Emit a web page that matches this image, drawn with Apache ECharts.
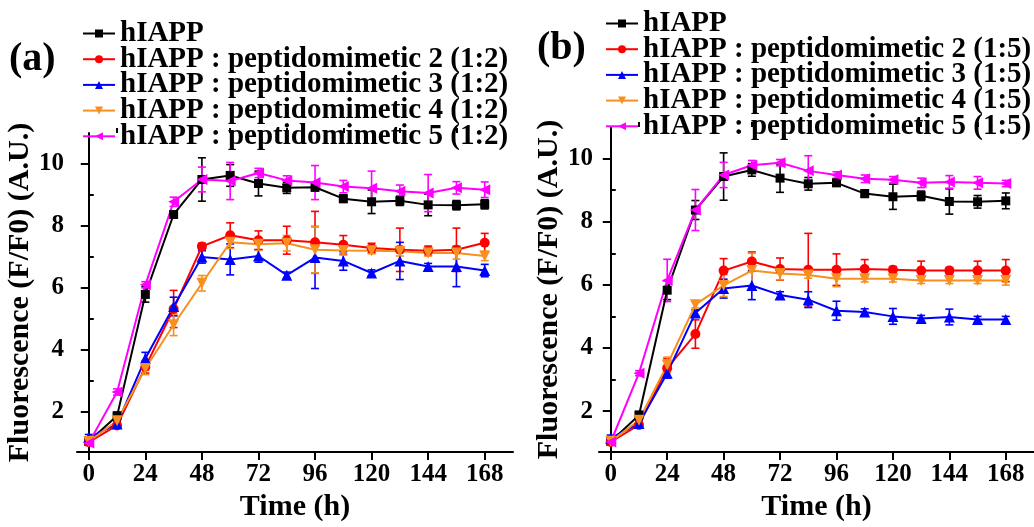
<!DOCTYPE html>
<html>
<head>
<meta charset="utf-8">
<script src="https://cdn.jsdelivr.net/npm/echarts@6/dist/echarts.min.js"></script>
<style>html,body{margin:0;padding:0;background:#fff;}#c{width:1034px;height:527px;}</style>
</head>
<body>
<div id="c"></div>
<script>
// ---------- data ----------
const hours = [0, 12, 24, 36, 48, 60, 72, 84, 96, 108, 120, 132, 144, 156, 168];
const xMajorTicks = [0, 24, 48, 72, 96, 120, 144, 168];
const xMinorTicks = [12, 36, 60, 84, 108, 132, 156];
const yMajorTicks = [2, 4, 6, 8, 10];
const yMinorTicks = [1, 3, 5, 7, 9];

const namesA = ['hIAPP', 'hIAPP : peptidomimetic 2 (1:2)', 'hIAPP : peptidomimetic 3 (1:2)', 'hIAPP : peptidomimetic 4 (1:2)', 'hIAPP : peptidomimetic 5 (1:2)'];
const namesB = ['hIAPP', 'hIAPP : peptidomimetic 2 (1:5)', 'hIAPP : peptidomimetic 3 (1:5)', 'hIAPP : peptidomimetic 4 (1:5)', 'hIAPP : peptidomimetic 5 (1:5)'];

// panel (a)
const a_hIAPP     = [1.04, 1.87, 5.79, 8.37, 9.50, 9.63, 9.37, 9.23, 9.25, 8.88, 8.78, 8.81, 8.68, 8.67, 8.70];
const a_hIAPP_err = [0.08, 0.12, 0.25, 0.10, 0.70, 0.35, 0.40, 0.18, 0.12, 0.12, 0.38, 0.15, 0.35, 0.15, 0.15];
const a_p2        = [1.02, 1.56, 3.45, 5.32, 7.34, 7.70, 7.54, 7.54, 7.47, 7.39, 7.29, 7.23, 7.20, 7.23, 7.46];
const a_p2_err    = [0.05, 0.08, 0.20, 0.60, 0.10, 0.40, 0.30, 0.45, 1.00, 0.30, 0.15, 0.70, 0.15, 0.70, 0.30];
const a_p3        = [1.17, 1.61, 3.72, 5.40, 7.00, 6.92, 7.03, 6.41, 6.98, 6.87, 6.48, 6.87, 6.69, 6.69, 6.56];
const a_p3_err    = [0.10, 0.08, 0.20, 0.30, 0.20, 0.50, 0.20, 0.10, 1.00, 0.30, 0.10, 0.60, 0.10, 0.65, 0.20];
const a_p4        = [1.04, 1.71, 3.40, 4.81, 6.15, 7.47, 7.41, 7.44, 7.23, 7.21, 7.20, 7.18, 7.13, 7.13, 7.03];
const a_p4_err    = [0.05, 0.12, 0.20, 0.35, 0.25, 0.20, 0.20, 0.25, 0.75, 0.15, 0.10, 0.15, 0.10, 0.20, 0.15];
const a_p5        = [0.99, 2.64, 6.10, 8.78, 9.50, 9.45, 9.71, 9.47, 9.40, 9.27, 9.22, 9.12, 9.06, 9.23, 9.17];
const a_p5_err    = [0.05, 0.10, 0.10, 0.15, 0.40, 0.60, 0.15, 0.15, 0.55, 0.20, 0.55, 0.20, 0.60, 0.20, 0.25];

// panel (b)
const b_hIAPP     = [1.04, 1.87, 5.83, 8.37, 9.43, 9.64, 9.38, 9.20, 9.23, 8.89, 8.79, 8.82, 8.64, 8.63, 8.66];
const b_hIAPP_err = [0.08, 0.12, 0.30, 0.30, 0.75, 0.20, 0.45, 0.20, 0.10, 0.12, 0.40, 0.15, 0.40, 0.20, 0.25];
const b_p2        = [1.02, 1.56, 3.36, 4.44, 6.45, 6.74, 6.50, 6.48, 6.48, 6.50, 6.48, 6.45, 6.45, 6.45, 6.45];
const b_p2_err    = [0.05, 0.08, 0.30, 0.45, 0.38, 0.30, 0.35, 1.15, 0.50, 0.30, 0.10, 0.30, 0.10, 0.30, 0.35];
const b_p3        = [1.14, 1.61, 3.20, 5.11, 5.88, 5.98, 5.68, 5.53, 5.18, 5.14, 5.00, 4.93, 4.98, 4.90, 4.90];
const b_p3_err    = [0.10, 0.08, 0.15, 0.10, 0.30, 0.45, 0.10, 0.25, 0.30, 0.10, 0.25, 0.10, 0.25, 0.10, 0.10];
const b_p4        = [1.04, 1.71, 3.46, 5.37, 5.98, 6.45, 6.36, 6.31, 6.19, 6.19, 6.19, 6.14, 6.14, 6.14, 6.14];
const b_p4_err    = [0.05, 0.10, 0.25, 0.10, 0.35, 0.55, 0.20, 0.10, 0.25, 0.10, 0.10, 0.10, 0.10, 0.10, 0.15];
const b_p5        = [1.02, 3.20, 6.14, 8.37, 9.48, 9.79, 9.87, 9.61, 9.48, 9.36, 9.33, 9.23, 9.26, 9.23, 9.21];
const b_p5_err    = [0.05, 0.08, 0.67, 0.65, 0.40, 0.15, 0.10, 0.48, 0.10, 0.12, 0.10, 0.15, 0.20, 0.20, 0.10];

// ---------- styles ----------
const FONT = 'Liberation Serif';
const colors = ['#000000', '#ff0000', '#0000ff', '#f7901e', '#ff00ff'];
const symbols = ['rect', 'circle', 'triangle', 'triangle', 'triangle'];
const rotates = [0, 0, 0, 180, 90];
const sizes = [9, 10, 11, 11, 11];

const valsA = [a_hIAPP, a_p2, a_p3, a_p4, a_p5];
const errsA = [a_hIAPP_err, a_p2_err, a_p3_err, a_p4_err, a_p5_err];
const valsB = [b_hIAPP, b_p2, b_p3, b_p4, b_p5];
const errsB = [b_hIAPP_err, b_p2_err, b_p3_err, b_p4_err, b_p5_err];

const txt = {fontFamily: FONT, fontWeight: 'bold', color: '#000'};

function xAxes(gridIndex) {
  return [
    {type: 'value', gridIndex, min: -5, max: 180, name: 'Time (h)', nameLocation: 'middle', nameGap: 37,
     nameTextStyle: Object.assign({fontSize: 30}, txt),
     axisLine: {lineStyle: {color: '#000', width: 2}},
     axisTick: {customValues: xMajorTicks, length: 8, lineStyle: {color: '#000', width: 2}},
     axisLabel: Object.assign({customValues: xMajorTicks, fontSize: 25, margin: 10}, txt),
     splitLine: {show: false}},
    {type: 'value', gridIndex, min: -5, max: 180,
     axisLine: {show: false},
     axisTick: {customValues: xMinorTicks, length: 5, lineStyle: {color: '#000', width: 2}},
     axisLabel: {show: false}, splitLine: {show: false}}
  ];
}
function yAxes(gridIndex, nameGap, labelMargin) {
  return [
    {type: 'value', gridIndex, min: 0.7, max: 11, name: 'Fluorescence (F/F0) (A.U.)', nameLocation: 'middle', nameGap,
     nameTextStyle: Object.assign({fontSize: 30}, txt),
     axisLine: {show: true, lineStyle: {color: '#000', width: 2}},
     axisTick: {show: true, customValues: yMajorTicks, length: 8, lineStyle: {color: '#000', width: 2}},
     axisLabel: Object.assign({customValues: yMajorTicks, fontSize: 25, margin: labelMargin}, txt),
     splitLine: {show: false}},
    {type: 'value', gridIndex, min: 0.7, max: 11,
     axisLine: {show: false},
     axisTick: {show: true, customValues: yMinorTicks, length: 5, lineStyle: {color: '#000', width: 2}},
     axisLabel: {show: false}, splitLine: {show: false}}
  ];
}

function errRender(color) {
  return function (params, api) {
    const x = api.value(0), y = api.value(1), e = api.value(2);
    const top = api.coord([x, y + e]);
    const bot = api.coord([x, y - e]);
    const hw = 4;
    const st = {stroke: color, lineWidth: 1.6};
    return {type: 'group', children: [
      {type: 'line', shape: {x1: top[0], y1: top[1], x2: bot[0], y2: bot[1]}, style: st},
      {type: 'line', shape: {x1: top[0] - hw, y1: top[1], x2: top[0] + hw, y2: top[1]}, style: st},
      {type: 'line', shape: {x1: bot[0] - hw, y1: bot[1], x2: bot[0] + hw, y2: bot[1]}, style: st}
    ]};
  };
}

function panelSeries(names, vals, errs, xIdx, yIdx) {
  const out = [];
  for (let i = 0; i < names.length; i++) {
    out.push({
      type: 'custom', xAxisIndex: xIdx, yAxisIndex: yIdx,
      renderItem: errRender(colors[i]),
      encode: {x: 0, y: 1},
      data: hours.map((h, k) => [h, vals[i][k], errs[i][k]]),
      z: 2, silent: true
    });
  }
  for (let i = 0; i < names.length; i++) {
    out.push({
      type: 'line', name: names[i], xAxisIndex: xIdx, yAxisIndex: yIdx,
      data: hours.map((h, k) => [h, vals[i][k]]),
      symbol: symbols[i], symbolRotate: rotates[i], symbolSize: sizes[i],
      showAllSymbol: true,
      lineStyle: {color: colors[i], width: 2},
      itemStyle: {color: colors[i], borderWidth: 0},
      z: 3
    });
  }
  return out;
}

const legendText = Object.assign({fontSize: 29}, txt);

const option = {
  animation: false,
  backgroundColor: '#fff',
  title: [
    {text: '(a)', left: 9, top: 40, padding: 0, textStyle: Object.assign({fontSize: 40}, txt)},
    {text: '(b)', left: 537, top: 29, padding: 0, textStyle: Object.assign({fontSize: 40}, txt)}
  ],
  legend: [
    {data: namesA, orient: 'vertical', left: 82, top: 19, padding: 0, itemGap: -3.3,
     itemWidth: 32, itemHeight: 10, textStyle: legendText, selectedMode: false},
    {data: namesB, orient: 'vertical', left: 605, top: 9, padding: 0, itemGap: -3.3,
     itemWidth: 32, itemHeight: 10, textStyle: legendText, selectedMode: false}
  ],
  grid: [
    {left: 77, top: 133, width: 436, height: 333},
    {left: 599, top: 127, width: 435, height: 334}
  ],
  xAxis: [...xAxes(0), ...xAxes(1)],
  yAxis: [...yAxes(0, 38, 13), ...yAxes(1, 33, 6)],
  series: [...panelSeries(namesA, valsA, errsA, 0, 0), ...panelSeries(namesB, valsB, errsB, 2, 2)]
};

const chart = echarts.init(document.getElementById('c'), null, {renderer: 'canvas'});
chart.setOption(option);
</script>
</body>
</html>
